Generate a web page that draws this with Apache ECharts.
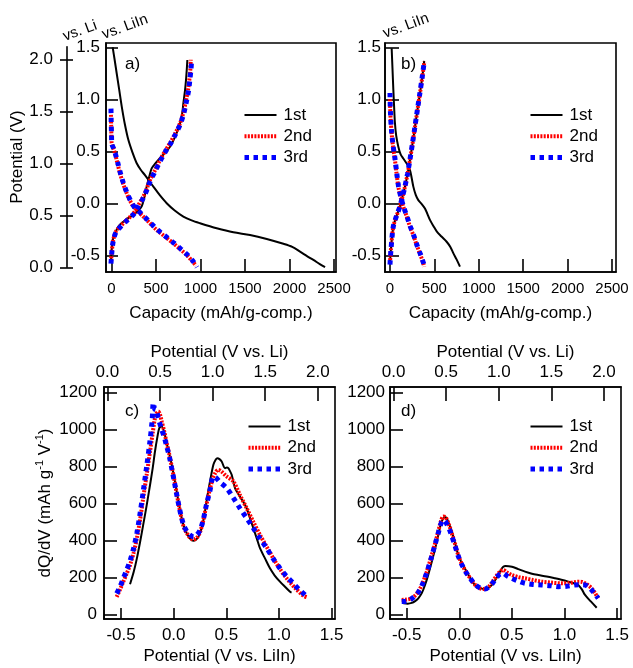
<!DOCTYPE html>
<html><head><meta charset="utf-8">
<script src="https://cdn.jsdelivr.net/npm/echarts@6/dist/echarts.min.js"></script>
<style>html,body{margin:0;padding:0;background:#fff}#c{width:633px;height:668px}</style>
</head><body><div id="c"></div>
<script>
// ---------- tick values ----------
const capTicks = [0, 500, 1000, 1500, 2000, 2500];
const potTicksLiIn = [-0.5, 0, 0.5, 1, 1.5];
const potTicksLi = [0, 0.5, 1, 1.5, 2];
const dqdvTicks = [0, 200, 400, 600, 800, 1000, 1200];
const seriesNames = ['1st', '2nd', '3rd'];

// ---------- panel a: [capacity, potential vs LiIn] ----------
const a1Dis = [[13,1.50],[35,1.38],[58,1.25],[85,1.10],[115,0.93],[150,0.76],[189,0.61],[235,0.49],[283,0.385],[330,0.32],[376,0.27],[470,0.16],[540,0.08],[620,0.0],[710,-0.07],[807,-0.128],[900,-0.165],[994,-0.192],[1182,-0.24],[1369,-0.279],[1556,-0.305],[1744,-0.343],[1931,-0.39],[2030,-0.42],[2118,-0.465],[2200,-0.51],[2268,-0.545],[2340,-0.585],[2399,-0.615]];
const a1Ch = [[-6,-0.55],[2,-0.45],[15,-0.35],[39,-0.29],[80,-0.22],[133,-0.177],[190,-0.14],[245,-0.112],[300,-0.07],[339,-0.03],[370,0.06],[395,0.16],[425,0.26],[451,0.336],[490,0.38],[526,0.416],[590,0.475],[657,0.544],[715,0.64],[770,0.77],[795,0.87],[807,0.96],[825,1.08],[837,1.186],[845,1.28],[852,1.378]];
const a2Dis = [[-6,0.85],[-4,0.75],[0,0.62],[2,0.58],[20,0.53],[39,0.48],[65,0.39],[95,0.29],[130,0.19],[171,0.096],[205,0.03],[245,-0.03],[300,-0.08],[357,-0.128],[430,-0.19],[508,-0.257],[600,-0.32],[694,-0.385],[770,-0.44],[845,-0.497],[900,-0.55],[950,-0.60]];
const a2Ch = [[-6,-0.56],[5,-0.45],[20,-0.35],[50,-0.27],[95,-0.225],[170,-0.16],[245,-0.1],[300,-0.02],[357,0.064],[395,0.14],[433,0.224],[490,0.32],[545,0.416],[600,0.5],[657,0.577],[715,0.67],[770,0.77],[810,0.88],[837,0.99],[860,1.09],[874,1.185],[885,1.28],[890,1.38]];
const a3Dis = [[-6,0.91],[-4,0.8],[0,0.66],[4,0.57],[22,0.53],[42,0.48],[70,0.39],[100,0.29],[135,0.19],[176,0.096],[212,0.03],[252,-0.03],[310,-0.08],[367,-0.128],[440,-0.19],[520,-0.257],[610,-0.32],[705,-0.385],[780,-0.44],[855,-0.497],[910,-0.55],[960,-0.615]];
const a3Ch = [[-6,-0.58],[5,-0.46],[20,-0.36],[52,-0.275],[100,-0.228],[175,-0.165],[250,-0.105],[305,-0.025],[362,0.06],[400,0.135],[438,0.22],[495,0.316],[550,0.41],[605,0.495],[662,0.572],[720,0.665],[775,0.765],[815,0.875],[843,0.985],[866,1.085],[880,1.185],[892,1.28],[898,1.35]];

// ---------- panel b: [capacity, potential vs LiIn] ----------
const b1Dis = [[19,1.49],[28,1.3],[38,1.09],[47,0.92],[56,0.77],[70,0.65],[94,0.544],[120,0.47],[150,0.43],[190,0.38],[225,0.32],[245,0.24],[263,0.16],[290,0.08],[319,0.03],[360,-0.01],[394,-0.05],[420,-0.1],[450,-0.16],[490,-0.22],[526,-0.27],[580,-0.32],[638,-0.37],[680,-0.42],[713,-0.48],[750,-0.54],[788,-0.61]];
const b1Ch = [[0,-0.58],[10,-0.45],[38,-0.225],[75,-0.12],[113,-0.03],[140,0.06],[169,0.16],[200,0.29],[225,0.416],[255,0.58],[282,0.736],[310,0.9],[338,1.058],[365,1.22],[385,1.37]];
const b2Dis = [[0,1.0],[5,0.85],[19,0.67],[35,0.54],[56,0.416],[75,0.28],[94,0.16],[120,0.06],[150,-0.033],[190,-0.13],[225,-0.225],[265,-0.31],[300,-0.4],[340,-0.49],[375,-0.577],[386,-0.61]];
const b2Ch = [[0,-0.577],[10,-0.45],[38,-0.225],[75,-0.12],[113,-0.03],[140,0.06],[169,0.16],[200,0.29],[225,0.416],[255,0.58],[282,0.736],[310,0.9],[338,1.058],[365,1.22],[387,1.36]];
const b3Dis = [[0,1.06],[5,0.88],[19,0.68],[36,0.55],[58,0.42],[77,0.285],[96,0.165],[122,0.062],[152,-0.03],[192,-0.128],[228,-0.222],[268,-0.31],[303,-0.4],[343,-0.49],[378,-0.577],[389,-0.615]];
const b3Ch = [[0,-0.59],[10,-0.46],[36,-0.23],[72,-0.125],[110,-0.035],[138,0.055],[167,0.155],[198,0.285],[223,0.41],[253,0.575],[280,0.73],[308,0.895],[336,1.055],[363,1.215],[385,1.355]];

// ---------- panel c: [potential vs LiIn, dQ/dV] ----------
const c1 = [[-0.415,163],[-0.38,230],[-0.35,303],[-0.32,390],[-0.29,484],[-0.257,590],[-0.225,700],[-0.2,790],[-0.178,881],[-0.155,960],[-0.137,1008],[-0.114,1017],[-0.09,985],[-0.067,927],[-0.043,870],[-0.019,809],[0.005,740],[0.028,665],[0.052,590],[0.076,520],[0.1,470],[0.124,439],[0.155,410],[0.187,398],[0.22,408],[0.25,439],[0.275,490],[0.297,556],[0.32,640],[0.345,719],[0.377,809],[0.4,838],[0.415,845],[0.435,840],[0.456,827],[0.488,791],[0.505,795],[0.519,791],[0.535,775],[0.551,755],[0.583,683],[0.61,655],[0.63,637],[0.66,610],[0.694,574],[0.72,530],[0.757,466],[0.79,410],[0.82,358],[0.87,300],[0.915,249],[0.96,210],[1.01,177],[1.06,148],[1.106,122],[1.12,118]];
const c2 = [[-0.542,95],[-0.51,135],[-0.479,177],[-0.447,220],[-0.415,267],[-0.38,335],[-0.35,412],[-0.32,510],[-0.29,629],[-0.257,755],[-0.225,881],[-0.2,980],[-0.178,1062],[-0.16,1090],[-0.146,1098],[-0.13,1080],[-0.114,1044],[-0.09,990],[-0.067,927],[-0.04,860],[-0.019,800],[0.005,730],[0.028,655],[0.052,580],[0.076,515],[0.1,465],[0.124,440],[0.155,415],[0.19,405],[0.22,415],[0.25,445],[0.28,505],[0.31,590],[0.345,680],[0.375,740],[0.4,770],[0.424,782],[0.45,775],[0.5,748],[0.567,719],[0.63,645],[0.694,574],[0.757,500],[0.82,430],[0.884,365],[0.947,303],[1.01,245],[1.074,195],[1.15,145],[1.232,101],[1.27,92]];
const c3 = [[-0.542,113],[-0.51,150],[-0.479,195],[-0.447,240],[-0.415,290],[-0.38,360],[-0.35,440],[-0.32,545],[-0.29,665],[-0.257,800],[-0.225,940],[-0.205,1050],[-0.194,1144],[-0.18,1110],[-0.165,1105],[-0.146,1060],[-0.12,1010],[-0.09,960],[-0.067,910],[-0.04,850],[-0.019,790],[0.005,720],[0.028,650],[0.052,580],[0.076,520],[0.1,475],[0.124,450],[0.155,430],[0.19,420],[0.22,430],[0.25,455],[0.28,510],[0.31,590],[0.345,670],[0.377,746],[0.4,740],[0.44,715],[0.504,683],[0.567,630],[0.63,574],[0.694,520],[0.757,466],[0.82,410],[0.884,358],[0.947,300],[1.01,249],[1.074,205],[1.137,168],[1.19,135],[1.248,105]];

// ---------- panel d: [potential vs LiIn, dQ/dV] ----------
const d1 = [[-0.532,60],[-0.49,58],[-0.452,62],[-0.42,72],[-0.39,87],[-0.357,115],[-0.326,159],[-0.295,215],[-0.262,285],[-0.23,355],[-0.2,430],[-0.175,490],[-0.152,520],[-0.135,525],[-0.12,520],[-0.095,485],[-0.072,448],[-0.04,385],[-0.01,321],[0.03,270],[0.07,231],[0.11,190],[0.149,159],[0.2,142],[0.244,137],[0.28,145],[0.308,159],[0.34,185],[0.371,213],[0.395,240],[0.418,258],[0.44,262],[0.5,258],[0.56,245],[0.625,231],[0.69,220],[0.751,213],[0.83,205],[0.91,195],[0.97,187],[1.036,177],[1.09,168],[1.131,159],[1.165,135],[1.195,105],[1.25,70],[1.306,36]];
const d2 = [[-0.548,78],[-0.5,80],[-0.452,87],[-0.4,115],[-0.357,159],[-0.31,230],[-0.262,321],[-0.23,385],[-0.2,448],[-0.175,505],[-0.152,529],[-0.135,528],[-0.12,515],[-0.095,480],[-0.072,440],[-0.04,380],[-0.01,320],[0.03,265],[0.07,225],[0.11,190],[0.149,160],[0.2,140],[0.244,137],[0.28,150],[0.32,180],[0.355,210],[0.387,231],[0.418,240],[0.45,228],[0.498,213],[0.56,202],[0.625,195],[0.7,186],[0.783,177],[0.87,172],[0.973,168],[1.05,170],[1.1,175],[1.131,177],[1.17,175],[1.195,168],[1.23,155],[1.258,141],[1.29,115],[1.32,87]];
const d3 = [[-0.548,69],[-0.5,72],[-0.452,85],[-0.4,112],[-0.357,155],[-0.31,225],[-0.262,315],[-0.23,380],[-0.2,440],[-0.175,490],[-0.152,511],[-0.135,505],[-0.12,490],[-0.095,460],[-0.072,425],[-0.04,370],[-0.01,315],[0.03,262],[0.07,222],[0.11,190],[0.149,162],[0.2,142],[0.244,137],[0.28,148],[0.32,172],[0.355,200],[0.387,218],[0.418,222],[0.45,210],[0.498,195],[0.56,180],[0.625,168],[0.7,162],[0.783,159],[0.87,155],[0.94,150],[1.02,152],[1.1,159],[1.15,160],[1.195,159],[1.23,148],[1.258,132],[1.29,110],[1.32,87]];

// ---------- styling ----------
const FONT = 'Liberation Sans, Arial, Helvetica, sans-serif';
const styles = {
  '1st': {color: '#000000', width: 2, type: 'solid'},
  '2nd': {color: '#ff0000', width: 4, type: [2, 1.3]},
  '3rd': {color: '#0000ff', width: 5, type: [4.5, 4.5]}
};
function mk(name, data, xi, yi) {
  return {
    type: 'line', name: name, data: data, xAxisIndex: xi, yAxisIndex: yi,
    symbol: 'none', showSymbol: false, smooth: 0.3, animation: false,
    lineStyle: Object.assign({}, styles[name], {cap: 'butt'}),
    itemStyle: {color: styles[name].color},
    z: name === '1st' ? 2 : (name === '2nd' ? 3 : 4)
  };
}
function fmt1(v) { return (Math.round(v * 10) / 10).toFixed(1); }

function valAxis(o) {
  const ticks = o.ticks;
  return {
    type: 'value', gridIndex: o.grid, position: o.pos, min: o.min, max: o.max, offset: o.offset || 0,
    show: o.show !== false,
    splitLine: {show: false},
    axisLine: {show: o.line !== false, onZero: false, lineStyle: {color: '#000', width: 1.6}},
    axisTick: {show: o.tickLen > 0, inside: o.inside !== false, length: o.tickLen || 0, customValues: ticks,
      lineStyle: {color: '#000', width: 1.6}},
    axisLabel: {show: o.labels !== false, customValues: ticks, margin: o.margin, color: '#000',
      fontSize: o.fs || 17, fontFamily: FONT, formatter: o.fmt, hideOverlap: false},
    name: o.name || '', nameLocation: 'middle', nameGap: o.nameGap || 0,
    nameTextStyle: o.nameStyle || {color: '#000', fontSize: 17, fontFamily: FONT}
  };
}

const capFmt = v => String(Math.round(v));
const gridBox = {show: true, borderColor: '#000', borderWidth: 1.6, backgroundColor: 'transparent'};
const legendData = seriesNames.map(n => ({
  name: n,
  lineStyle: {color: styles[n].color, width: styles[n].width, type: styles[n].type, cap: 'butt'},
  itemStyle: {color: 'transparent', borderColor: 'transparent', borderWidth: 0, opacity: 0}
}));

const option = {
  backgroundColor: '#ffffff',
  animation: false,
  textStyle: {fontFamily: FONT},
  grid: [
    Object.assign({left: 106, top: 43, width: 230, height: 229}, gridBox),
    Object.assign({left: 385, top: 43, width: 231, height: 229}, gridBox),
    Object.assign({left: 104, top: 387, width: 231, height: 232}, gridBox),
    Object.assign({left: 390, top: 387, width: 231, height: 232}, gridBox),
    {left: 67, top: 46.8, width: 10, height: 220.5, show: false}
  ],
  xAxis: [
    valAxis({grid: 0, pos: 'bottom', min: -62, max: 2522, ticks: capTicks, tickLen: 13, margin: 9, fs: 15, fmt: capFmt,
      name: 'Capacity (mAh/g-comp.)', nameGap: 33}),
    valAxis({grid: 1, pos: 'bottom', min: -56, max: 2545, ticks: capTicks, tickLen: 13, margin: 9, fs: 15, fmt: capFmt,
      name: 'Capacity (mAh/g-comp.)', nameGap: 33}),
    valAxis({grid: 2, pos: 'bottom', min: -0.6625, max: 1.533, ticks: potTicksLiIn, tickLen: 11, margin: 8, fmt: fmt1,
      name: 'Potential (V vs. LiIn)', nameGap: 29}),
    valAxis({grid: 2, pos: 'top', min: -0.0325, max: 2.163, ticks: potTicksLi, tickLen: 14, margin: 6, fmt: fmt1,
      name: 'Potential (V vs. Li)', nameGap: 26}),
    valAxis({grid: 3, pos: 'bottom', min: -0.659, max: 1.537, ticks: potTicksLiIn, tickLen: 11, margin: 8, fmt: fmt1,
      name: 'Potential (V vs. LiIn)', nameGap: 29}),
    valAxis({grid: 3, pos: 'top', min: -0.034, max: 2.162, ticks: potTicksLi, tickLen: 14, margin: 6, fmt: fmt1,
      name: 'Potential (V vs. Li)', nameGap: 26}),
    {type: 'value', gridIndex: 4, show: false, min: 0, max: 1}
  ],
  yAxis: [
    valAxis({grid: 0, pos: 'left', min: -0.661, max: 1.541, ticks: potTicksLiIn, tickLen: 12, margin: 6, fmt: fmt1}),
    valAxis({grid: 1, pos: 'left', min: -0.661, max: 1.541, ticks: potTicksLiIn, tickLen: 14, margin: 4, fmt: fmt1}),
    valAxis({grid: 2, pos: 'left', min: -25, max: 1230, ticks: dqdvTicks, tickLen: 13, margin: 7, fmt: capFmt,
      name: '{a|dQ/dV (mAh g}{s|-1}{a| V}{s|-1}{a|)}', nameGap: 50,
      nameStyle: {color: '#000', fontFamily: FONT, rich: {
        a: {fontSize: 17, fontFamily: FONT, color: '#000', lineHeight: 20, verticalAlign: 'bottom'},
        s: {fontSize: 11, fontFamily: FONT, color: '#000', lineHeight: 12, verticalAlign: 'top'}}}}),
    valAxis({grid: 3, pos: 'left', min: -25, max: 1230, ticks: dqdvTicks, tickLen: 13, margin: 5, fmt: capFmt}),
    valAxis({grid: 4, pos: 'left', min: 0, max: 2.12, ticks: potTicksLi, tickLen: 7, inside: false, margin: 14, fmt: fmt1,
      name: 'Potential (V)', nameGap: 37}),
    valAxis({grid: 4, pos: 'left', min: 0, max: 2.12, ticks: potTicksLi, tickLen: 6, inside: true, labels: false, line: false})
  ],
  legend: [
    {left: 242, top: 106}, {left: 528, top: 106}, {left: 246, top: 417.5}, {left: 528, top: 417.5}
  ].map(p => ({
    left: p.left, top: p.top, orient: 'vertical', padding: 0, itemGap: 3.3, itemWidth: 32, itemHeight: 12,
    selectedMode: false, data: legendData,
    itemStyle: {color: 'transparent', borderColor: 'transparent', borderWidth: 0, opacity: 0},
    textStyle: {fontSize: 17, fontFamily: FONT, color: '#000', lineHeight: 18, padding: [0, 0, 0, 2]}
  })),
  graphic: [
    {type: 'text', x: 125, y: 64, style: {text: 'a)', font: '17px ' + FONT, fill: '#000', verticalAlign: 'middle'}},
    {type: 'text', x: 401, y: 64, style: {text: 'b)', font: '17px ' + FONT, fill: '#000', verticalAlign: 'middle'}},
    {type: 'text', x: 125, y: 411, style: {text: 'c)', font: '17px ' + FONT, fill: '#000', verticalAlign: 'middle'}},
    {type: 'text', x: 401, y: 411, style: {text: 'd)', font: '17px ' + FONT, fill: '#000', verticalAlign: 'middle'}},
    {type: 'text', x: 80, y: 31, rotation: 0.35, style: {text: 'vs. Li', font: '15px ' + FONT, fill: '#000', align: 'center', verticalAlign: 'middle'}},
    {type: 'text', x: 125, y: 27, rotation: 0.35, style: {text: 'vs. LiIn', font: '15px ' + FONT, fill: '#000', align: 'center', verticalAlign: 'middle'}},
    {type: 'text', x: 406, y: 26, rotation: 0.35, style: {text: 'vs. LiIn', font: '15px ' + FONT, fill: '#000', align: 'center', verticalAlign: 'middle'}}
  ],
  series: [
    mk('1st', a1Dis, 0, 0), mk('1st', a1Ch, 0, 0),
    mk('2nd', a2Dis, 0, 0), mk('2nd', a2Ch, 0, 0),
    mk('3rd', a3Dis, 0, 0), mk('3rd', a3Ch, 0, 0),
    mk('1st', b1Dis, 1, 1), mk('1st', b1Ch, 1, 1),
    mk('2nd', b2Dis, 1, 1), mk('2nd', b2Ch, 1, 1),
    mk('3rd', b3Dis, 1, 1), mk('3rd', b3Ch, 1, 1),
    mk('1st', c1, 2, 2), mk('2nd', c2, 2, 2), mk('3rd', c3, 2, 2),
    mk('1st', d1, 4, 3), mk('2nd', d2, 4, 3), mk('3rd', d3, 4, 3)
  ]
};
const chart = echarts.init(document.getElementById('c'), null, {renderer: 'canvas'});
chart.setOption(option);
</script>
</body></html>
